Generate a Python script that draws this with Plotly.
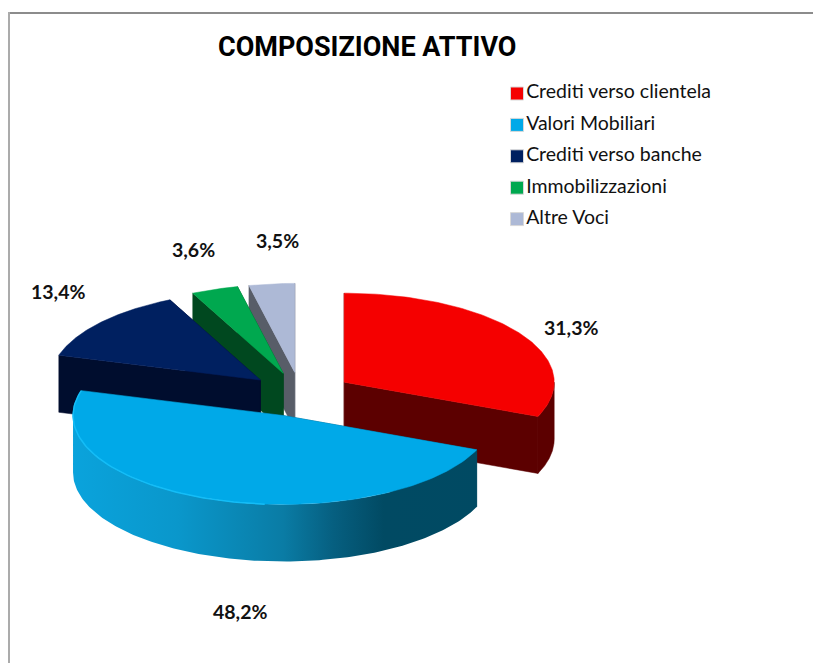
import numpy as np
import plotly.graph_objects as go

# Composition of assets, in percent
CATEGORIES = ["Crediti verso clientela", "Valori Mobiliari", "Crediti verso banche",
              "Immobilizzazioni", "Altre Voci"]
SHARES = [31.3, 48.2, 13.4, 3.6, 3.5]
TITLE = "COMPOSIZIONE ATTIVO"

# Colours per slice
TOP_COLORS = ["#f50000", "#00a9e8", "#002060", "#00a84f", "#adb9d6"]
WALL_COLORS = ["#5c0000", "#004a63", "#000d2e", "#00481f", "#585d68"]
RIM_GRADIENT = [[0.0, "#0aa3dc"], [0.25, "#0a97cb"], [0.5, "#0a7ca5"],
                [0.62, "#065f80"], [0.74, "#014a63"], [1.0, "#004a63"]]

# Pie geometry on a pixel-sized canvas
W, H = 813, 663
CX, CY = 300.5, 394.5
RX, RY = 210.0, 89.0
DEPTH = 57.0
EXPLODE = 0.25

LABEL_POS = [(571, 327), (240, 611), (57.5, 291), (193.5, 249), (277, 240)]
LEGEND_X, LEGEND_Y, LEGEND_STEP = 517, 93.5, 31.4
FONT = "Lato"


def on_ellipse(deg, ox, oy):
    t = np.radians(deg)
    return ox + RX * np.sin(t), oy - RY * np.cos(t)


def polygon(xs, ys, color):
    return go.Scatter(x=list(xs), y=list(ys), mode="lines", fill="toself",
                      fillcolor=color, line=dict(color=color, width=0.5),
                      hoverinfo="skip", showlegend=False)


fig = go.Figure()

# Slice angles, clockwise from twelve o'clock
edges = np.concatenate([[0], np.cumsum(SHARES)]) * 3.6
slices = []
for i in range(len(SHARES)):
    start, end = edges[i], edges[i + 1]
    mid = np.radians((start + end) / 2)
    ox = CX + EXPLODE * RX * np.sin(mid)
    oy = CY - EXPLODE * RY * np.cos(mid)
    slices.append((i, start, end, ox, oy))

# Painter's order: rear slices first, the large front slice last
for i, start, end, ox, oy in [slices[k] for k in (4, 3, 2, 0, 1)]:
    wall = WALL_COLORS[i]
    # Radial walls
    for edge in (end, start):
        ex, ey = on_ellipse(edge, ox, oy)
        fig.add_trace(polygon([ox, ex, ex, ox, ox],
                              [oy, ey, ey + DEPTH, oy + DEPTH, oy], wall))
    # Curved outer wall, front half only
    lo, hi = max(start, 90.0), min(end, 270.0)
    if hi > lo:
        arc = np.linspace(lo, hi, 160)
        x, y = on_ellipse(arc, ox, oy)
        rim = polygon(np.r_[x, x[::-1], x[0]], np.r_[y, y[::-1] + DEPTH, y[0]], wall)
        if i == 1:
            # The large slice shades from light on the left to dark on the right
            rim.fillgradient = dict(type="horizontal", colorscale=RIM_GRADIENT,
                                    start=ox - RX, stop=ox + RX)
            rim.line.width = 0
        fig.add_trace(rim)
    # Top face
    arc = np.linspace(start, end, 120)
    x, y = on_ellipse(arc, ox, oy)
    fig.add_trace(polygon(np.r_[ox, x, ox], np.r_[oy, y, oy], TOP_COLORS[i]))
    # Soft highlight along the front-left lip of the large slice
    if i == 1:
        arc = np.linspace(185, end, 60)
        x, y = on_ellipse(arc, ox, oy)
        fig.add_trace(go.Scatter(x=x, y=y, mode="lines", hoverinfo="skip",
                                 showlegend=False,
                                 line=dict(color="#14bdf7", width=1.5)))

# Legend as square markers with their labels
fig.add_trace(go.Scatter(
    x=[LEGEND_X] * len(CATEGORIES),
    y=[LEGEND_Y + LEGEND_STEP * k for k in range(len(CATEGORIES))],
    mode="markers+text", text=CATEGORIES, textposition="middle right",
    textfont=dict(family=FONT, size=19.5, color="#111111"),
    marker=dict(symbol="square", size=13, color=TOP_COLORS,
                line=dict(color="#d8d8d8", width=1)),
    hoverinfo="skip", showlegend=False))

# Value labels
for share, (lx, ly) in zip(SHARES, LABEL_POS):
    fig.add_annotation(x=lx, y=ly, text=f"<b>{share:.1f}%</b>".replace(".", ","),
                       showarrow=False, font=dict(family=FONT, size=19.5, color="#111111"))

# Title
fig.add_annotation(x=366.5, y=47, text=f"<b>{TITLE}</b>", showarrow=False,
                   font=dict(family="Roboto", size=27, color="#000000"))

fig.update_layout(
    width=W, height=H, margin=dict(l=0, r=0, t=0, b=0),
    paper_bgcolor="white", plot_bgcolor="white", showlegend=False,
    xaxis=dict(range=[0, W], visible=False, fixedrange=True),
    yaxis=dict(range=[H, 0], visible=False, fixedrange=True),
    shapes=[
        dict(type="line", x0=9, x1=813, y0=13, y1=13, line=dict(color="#8c8c8c", width=2)),
        dict(type="line", x0=9, x1=9, y0=12, y1=663, line=dict(color="#ababab", width=2)),
    ],
)

fig.write_html("out.html")
